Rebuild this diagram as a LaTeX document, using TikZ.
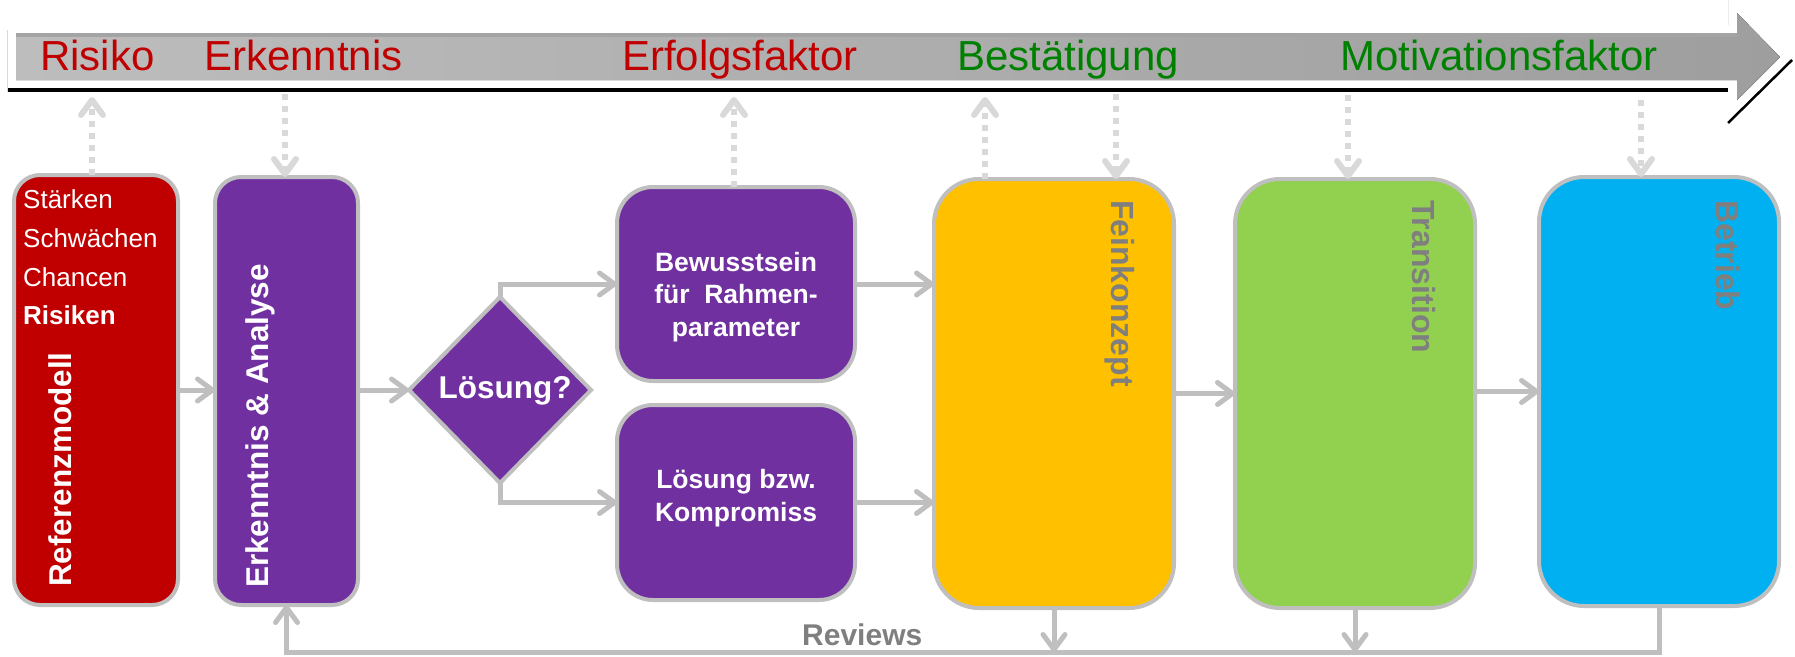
\documentclass[tikz,border=0pt]{standalone}
\usepackage{fontspec}
\setmainfont{Liberation Sans}
\usetikzlibrary{arrows.meta,shapes.geometric,calc}

\definecolor{boxred}{HTML}{C00000}
\definecolor{boxpurple}{HTML}{7030A0}
\definecolor{boxyellow}{HTML}{FFC000}
\definecolor{boxgreen}{HTML}{92D050}
\definecolor{boxblue}{HTML}{00B0F0}
\definecolor{rimgray}{HTML}{BFBFBF}
\definecolor{dashgray}{HTML}{D9D9D9}
\definecolor{labelgray}{HTML}{7F7F7F}
\definecolor{termred}{HTML}{C00000}
\definecolor{termgreen}{HTML}{008000}
\definecolor{bandlight}{HTML}{BDBDBD}
\definecolor{banddark}{HTML}{9E9E9E}
\definecolor{bandrim}{HTML}{A4A4A4}

\newcommand\fsz[2]{\fontsize{#1pt}{#2pt}\selectfont}

\begin{document}
\begin{tikzpicture}[x=1pt,y=-1pt,
  phase/.style={draw=rimgray, line width=4pt, rounded corners=#1,
                inner sep=0pt, outer sep=0pt},
  conn/.style={draw=rimgray, line width=5pt},
  flow/.style={conn, -{Straight Barb[length=15pt,width=22pt,round]}},
  hint/.style={draw=dashgray, line width=6pt, dash pattern=on 6pt off 6pt,
               -{Straight Barb[length=15pt,width=22pt,round]}},
  term/.style={anchor=base west, inner sep=0pt, font=\fsz{42}{50}},
  listitem/.style={anchor=base west, inner sep=0pt, text=white, font=\fsz{26}{30}},
  upright/.style={rotate=90, anchor=base west, inner sep=0pt, text=white,
                  font=\bfseries\fsz{31.5}{36}},
  downright/.style={rotate=-90, anchor=base west, inner sep=0pt, text=labelgray,
                    font=\bfseries\fsz{32}{36}},
  boxtext/.style={align=center, inner sep=0pt, text=white,
                  font=\bfseries\fsz{26.5}{32.5}}]

\useasboundingbox (0,0) rectangle (1795,656);

% timeline band with arrow head
\fill[left color=bandlight, right color=banddark]
  (16,33) -- (1737,33) -- (1737,13) -- (1780,57) -- (1737,100)
  -- (1737,80) -- (16,80) -- cycle;
\fill[bandrim] (16,33) rectangle (1737,37);
\draw[black, line width=4pt] (7,90) -- (1728,90);
\draw[black, line width=2.5pt] (1728,123) -- (1792,60);
\draw[gray!30, line width=1pt] (7,30) -- (7,92);
\draw[gray!15, line width=1pt] (1728,0) -- (1728,25);

% timeline terms
\node[term, text=termred]   (trisk) at (40,70)   {Risiko};
\node[term, text=termred]   (tinsi) at (204,70)  {Erkenntnis};
\node[term, text=termred]   (tsucc) at (622,70)  {Erfolgsfaktor};
\node[term, text=termgreen] (tconf) at (957,70)  {Bestätigung};
\node[term, text=termgreen] (tmoti) at (1340,70) {Motivationsfaktor};

% phase boxes
\node[phase=26pt, fill=boxred, minimum width=164pt, minimum height=430pt] (ref) at (96,390) {};
\node[phase=26pt, fill=boxpurple, minimum width=143pt, minimum height=428pt] (ana) at (286.5,391) {};
\node[diamond, draw=rimgray, line width=4pt, fill=boxpurple, aspect=1,
      minimum width=182pt, minimum height=186pt, inner sep=0pt, outer sep=0pt] (dia) at (500,390) {};
\node[phase=36pt, fill=boxpurple, minimum width=238pt, minimum height=194pt] (bew) at (736,284) {};
\node[phase=36pt, fill=boxpurple, minimum width=238pt, minimum height=195pt] (loe) at (736,502.5) {};
\node[phase=45pt, fill=boxyellow, minimum width=240pt, minimum height=429pt] (fein) at (1054,393.5) {};
\node[phase=45pt, fill=boxgreen, minimum width=240pt, minimum height=429pt] (trans) at (1355,393.5) {};
\node[phase=45pt, fill=boxblue, minimum width=240pt, minimum height=429pt] (betr) at (1659,391.5) {};

% box texts
\node[listitem] (s1) at (23,208) {Stärken};
\node[listitem] (s2) at (23,247) {Schwächen};
\node[listitem] (s3) at (23,286) {Chancen};
\node[listitem, font=\bfseries\fsz{26}{30}] (s4) at (23,324) {Risiken};
\node[upright] (refl) at (71,587) {Referenzmodell};
\node[upright] (anal) at (268,588) {Erkenntnis \& Analyse};
\node[text=white, inner sep=0pt, font=\bfseries\fsz{31.5}{36}] (dial) at (505,391) {Lösung?};
\node[boxtext] (bewl) at (736,297) {Bewusstsein\\für\ \ Rahmen-\\parameter};
\node[boxtext] (loel) at (736,498) {Lösung bzw.\\Kompromiss};
\node[downright] (feinl)  at (1111,200) {Feinkonzept};
\node[downright] (transl) at (1412,200) {Transition};
\node[downright] (betrl)  at (1716,200) {Betrieb};

% main flow
\draw[flow] (ref.east) -- (ref.east -| ana.west);
\draw[flow] (dia.west -| ana.east) -- (dia.west);
\draw[flow] (dia.north) |- (bew.west);
\draw[flow] (dia.south) |- (loe.west);
\draw[flow] (bew.east) -- (bew.east -| fein.west);
\draw[flow] (loe.east) -- (loe.east -| fein.west);
\draw[flow] (fein.east) -- (fein.east -| trans.west);
\draw[flow] (betr.west -| trans.east) -- (betr.west);

% review feedback loop
\coordinate (fb) at (0,652);
\draw[flow] (betr.south) -- (betr.south |- fb) -| (ana.south);
\draw[flow] (fein.south) -- (fein.south |- fb);
\draw[flow] (trans.south) -- (trans.south |- fb);
\node[anchor=base west, inner sep=0pt, text=labelgray, font=\bfseries\fsz{30}{34}] (rev) at (802,645) {Reviews};

% links between phases and the timeline
\coordinate (h1) at (92,97);
\coordinate (h2) at (285,94);
\coordinate (h3) at (734,97);
\coordinate (h4) at (985,97);
\coordinate (h5) at (1116,94);
\coordinate (h6) at (1348,95);
\coordinate (h7) at (1641,100);
\draw[hint] (h1 |- ref.north) -- (h1);
\draw[hint] (h2) -- (h2 |- ana.north);
\draw[hint] (h3 |- bew.north) -- (h3);
\draw[hint] (h4 |- fein.north) -- (h4);
\draw[hint] (h5) -- (h5 |- fein.north);
\draw[hint] (h6) -- (h6 |- trans.north);
\draw[hint] (h7) -- (h7 |- betr.north);

\end{tikzpicture}
\end{document}
